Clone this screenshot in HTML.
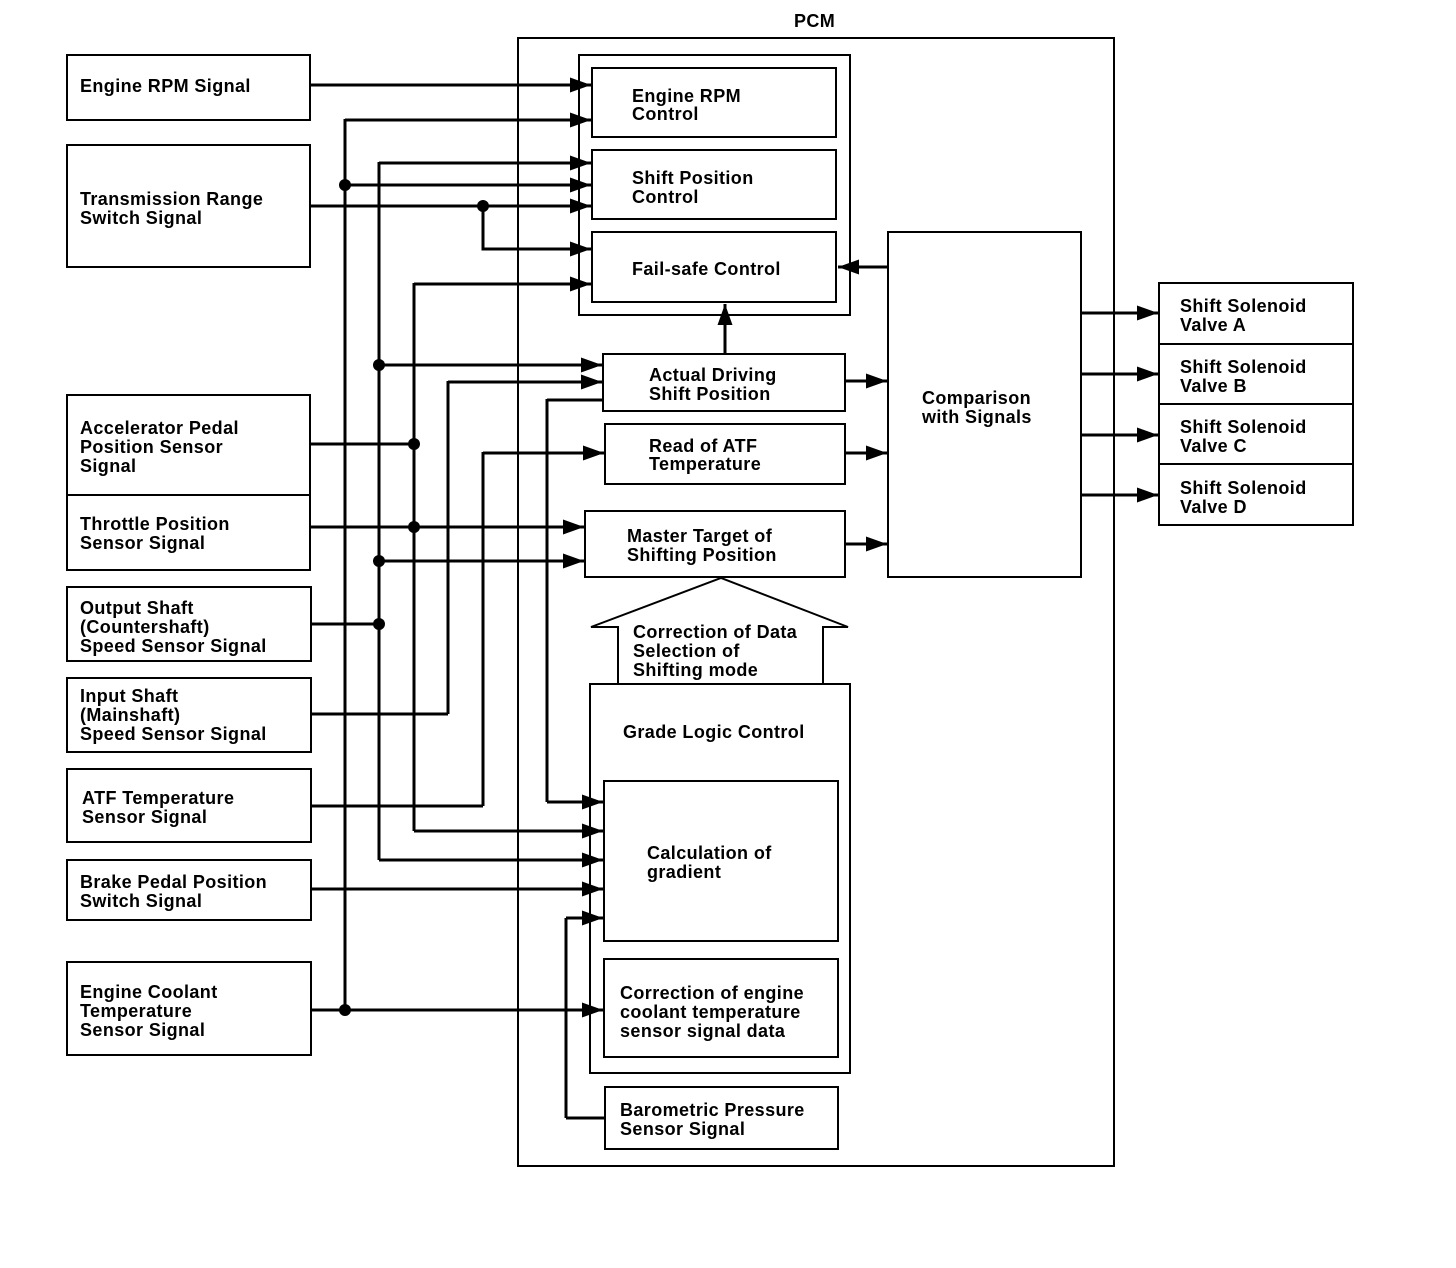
<!DOCTYPE html>
<html><head><meta charset="utf-8"><style>
html,body{margin:0;padding:0;background:#fff;}
svg{display:block;}
text{font-family:"Liberation Sans",Arial,sans-serif;font-weight:bold;font-size:18px;letter-spacing:0.4px;fill:#000;}
</style></head><body>
<svg width="1456" height="1268" viewBox="0 0 1456 1268" xmlns="http://www.w3.org/2000/svg">
<defs>
<marker id="a" markerWidth="7" markerHeight="5" refX="7" refY="2.5" orient="auto" markerUnits="strokeWidth">
<path d="M0,0 L7,2.5 L0,5 Z" fill="#000"/></marker>
</defs>
<g fill="none" stroke="#000" stroke-width="2">
<rect x="518" y="38" width="596" height="1128"/>
<rect x="579" y="55" width="271" height="260"/>
<rect x="592" y="68" width="244" height="69"/>
<rect x="592" y="150" width="244" height="69"/>
<rect x="592" y="232" width="244" height="70"/>
<rect x="603" y="354" width="242" height="57"/>
<rect x="605" y="424" width="240" height="60"/>
<rect x="585" y="511" width="260" height="66"/>
<polyline points="618,684 618,627 591,627 721,578 848,627 823,627 823,684"/>
<rect x="590" y="684" width="260" height="389"/>
<rect x="604" y="781" width="234" height="160"/>
<rect x="604" y="959" width="234" height="98"/>
<rect x="605" y="1087" width="233" height="62"/>
<rect x="888" y="232" width="193" height="345"/>
<rect x="1159" y="283" width="194" height="242"/>
<line x1="1159" y1="344" x2="1353" y2="344"/>
<line x1="1159" y1="404" x2="1353" y2="404"/>
<line x1="1159" y1="464" x2="1353" y2="464"/>
<rect x="67" y="55" width="243" height="65"/>
<rect x="67" y="145" width="243" height="122"/>
<rect x="67" y="395" width="243" height="100"/>
<rect x="67" y="495" width="243" height="75"/>
<rect x="67" y="587" width="244" height="74"/>
<rect x="67" y="678" width="244" height="74"/>
<rect x="67" y="769" width="244" height="73"/>
<rect x="67" y="860" width="244" height="60"/>
<rect x="67" y="962" width="244" height="93"/>
</g>
<g fill="none" stroke="#000" stroke-width="3">
<line x1="345" y1="119" x2="345" y2="1010"/>
<line x1="379" y1="162" x2="379" y2="860"/>
<line x1="414" y1="283" x2="414" y2="831"/>
<line x1="448" y1="381" x2="448" y2="714"/>
<line x1="483" y1="452" x2="483" y2="806"/>
<line x1="483" y1="206" x2="483" y2="249"/>
<line x1="547" y1="399" x2="547" y2="802"/>
<line x1="566" y1="918" x2="566" y2="1118"/>
<polyline points="605,1118 566,1118"/>
<polyline points="310,714 448,714"/>
<polyline points="311,806 483,806"/>
<polyline points="310,444 414,444"/>
<polyline points="311,624 379,624"/>
<polyline points="603,400 547,400"/>
<g marker-end="url(#a)">
<line x1="310" y1="85" x2="591" y2="85"/>
<line x1="345" y1="120" x2="591" y2="120"/>
<line x1="379" y1="163" x2="591" y2="163"/>
<line x1="345" y1="185" x2="591" y2="185"/>
<line x1="310" y1="206" x2="591" y2="206"/>
<polyline points="483,206 483,249 591,249"/>
<line x1="414" y1="284" x2="591" y2="284"/>
<line x1="379" y1="365" x2="602" y2="365"/>
<line x1="448" y1="382" x2="602" y2="382"/>
<line x1="483" y1="453" x2="604" y2="453"/>
<line x1="310" y1="527" x2="584" y2="527"/>
<line x1="379" y1="561" x2="584" y2="561"/>
<line x1="547" y1="802" x2="603" y2="802"/>
<line x1="414" y1="831" x2="603" y2="831"/>
<line x1="379" y1="860" x2="603" y2="860"/>
<line x1="311" y1="889" x2="603" y2="889"/>
<line x1="566" y1="918" x2="603" y2="918"/>
<line x1="311" y1="1010" x2="603" y2="1010"/>
<line x1="725" y1="354" x2="725" y2="304"/>
<line x1="845" y1="381" x2="887" y2="381"/>
<line x1="845" y1="453" x2="887" y2="453"/>
<line x1="845" y1="544" x2="887" y2="544"/>
<line x1="888" y1="267" x2="838" y2="267"/>
<line x1="1081" y1="313" x2="1158" y2="313"/>
<line x1="1081" y1="374" x2="1158" y2="374"/>
<line x1="1081" y1="435" x2="1158" y2="435"/>
<line x1="1081" y1="495" x2="1158" y2="495"/>
</g>
</g>
<g fill="#000">
<circle cx="345" cy="185" r="6"/><circle cx="483" cy="206" r="6"/>
<circle cx="379" cy="365" r="6"/><circle cx="414" cy="444" r="6"/>
<circle cx="414" cy="527" r="6"/><circle cx="379" cy="561" r="6"/>
<circle cx="379" cy="624" r="6"/><circle cx="345" cy="1010" r="6"/>
</g>
<text x="794" y="27">PCM</text>
<text x="80" y="92">Engine RPM Signal</text>
<text x="80" y="205">Transmission Range</text><text x="80" y="224">Switch Signal</text>
<text x="80" y="434">Accelerator Pedal</text><text x="80" y="453">Position Sensor</text><text x="80" y="472">Signal</text>
<text x="80" y="530">Throttle Position</text><text x="80" y="549">Sensor Signal</text>
<text x="80" y="614">Output Shaft</text><text x="80" y="633">(Countershaft)</text><text x="80" y="652">Speed Sensor Signal</text>
<text x="80" y="702">Input Shaft</text><text x="80" y="721">(Mainshaft)</text><text x="80" y="740">Speed Sensor Signal</text>
<text x="82" y="804">ATF Temperature</text><text x="82" y="823">Sensor Signal</text>
<text x="80" y="888">Brake Pedal Position</text><text x="80" y="907">Switch Signal</text>
<text x="80" y="998">Engine Coolant</text><text x="80" y="1017">Temperature</text><text x="80" y="1036">Sensor Signal</text>
<text x="632" y="102">Engine RPM</text><text x="632" y="120">Control</text>
<text x="632" y="184">Shift Position</text><text x="632" y="203">Control</text>
<text x="632" y="275">Fail-safe Control</text>
<text x="649" y="381">Actual Driving</text><text x="649" y="400">Shift Position</text>
<text x="649" y="452">Read of ATF</text><text x="649" y="470">Temperature</text>
<text x="627" y="542">Master Target of</text><text x="627" y="561">Shifting Position</text>
<text x="633" y="638">Correction of Data</text><text x="633" y="657">Selection of</text><text x="633" y="676">Shifting mode</text>
<text x="623" y="738">Grade Logic Control</text>
<text x="647" y="859">Calculation of</text><text x="647" y="878">gradient</text>
<text x="620" y="999">Correction of engine</text><text x="620" y="1018">coolant temperature</text><text x="620" y="1037">sensor signal data</text>
<text x="620" y="1116">Barometric Pressure</text><text x="620" y="1135">Sensor Signal</text>
<text x="922" y="404">Comparison</text><text x="922" y="423">with Signals</text>
<text x="1180" y="312">Shift Solenoid</text><text x="1180" y="331">Valve A</text>
<text x="1180" y="373">Shift Solenoid</text><text x="1180" y="392">Valve B</text>
<text x="1180" y="433">Shift Solenoid</text><text x="1180" y="452">Valve C</text>
<text x="1180" y="494">Shift Solenoid</text><text x="1180" y="513">Valve D</text>
</svg>
</body></html>
